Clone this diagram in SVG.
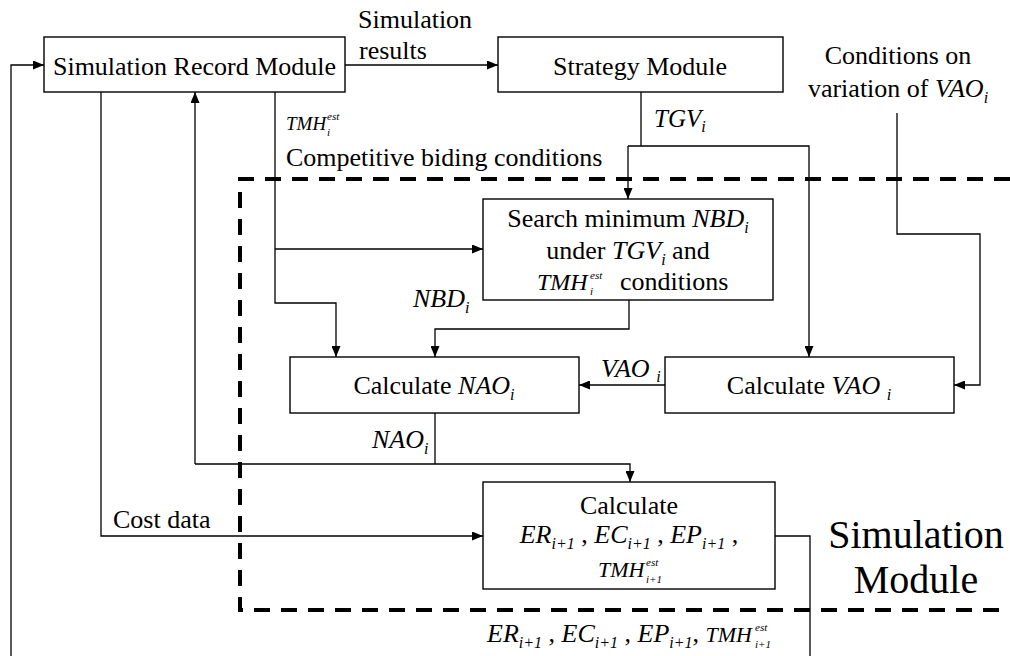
<svg xmlns="http://www.w3.org/2000/svg" width="1010" height="656" viewBox="0 0 1010 656">
  <defs>
    <marker id="head" markerUnits="userSpaceOnUse" markerWidth="11" markerHeight="9" refX="11" refY="4.5" orient="auto">
      <path d="M0,0 L11,4.5 L0,9 z" fill="#000"/>
    </marker>
  </defs>

  <!-- dashed boundary of the simulation module -->
  <path d="M1010,179 H240 V610 H1010" fill="none" stroke="#000" stroke-width="4" stroke-dasharray="16 11"/>

  <!-- connectors -->
  <g id="connectors" fill="none" stroke="#000" stroke-width="1.3">
    <path marker-end="url(#head)" d="M11,656 V65 H44"/>
    <path marker-end="url(#head)" d="M345,65 H498"/>
    <path marker-end="url(#head)" d="M101,92 V536 H483"/>
    <path marker-end="url(#head)" d="M195,464 V92"/>
    <path d="M435,413 V464"/>
    <path marker-end="url(#head)" d="M195,464 H630 V482"/>
    <path marker-end="url(#head)" d="M275,92 V303 H336 V357"/>
    <path marker-end="url(#head)" d="M275,249 H483"/>
    <path d="M641,92 V146"/>
    <path marker-end="url(#head)" d="M628,146 H809 V357"/>
    <path marker-end="url(#head)" d="M628,146 V199"/>
    <path marker-end="url(#head)" d="M629,300 V329 H435 V357"/>
    <path marker-end="url(#head)" d="M665,385 H579"/>
    <path marker-end="url(#head)" d="M897,113 V234 H980 V385 H954"/>
    <path d="M775,536 H810 V656"/>
  </g>

  <!-- connector labels -->
  <g id="labels" fill="#000">
    <text font-family="Liberation Serif" font-size="26" x="358" y="28">Simulation</text>
    <text font-family="Liberation Serif" font-size="26" x="359" y="59">results</text>
    <text font-family="Liberation Serif" font-size="19" font-style="italic" x="286" y="130">TMH</text>
    <text font-family="Liberation Serif" font-size="11" font-style="italic" x="327" y="120">est</text>
    <text font-family="Liberation Serif" font-size="11" font-style="italic" x="327" y="136">i</text>
    <text font-family="Liberation Serif" font-size="26" x="286" y="166">Competitive biding conditions</text>
    <text font-family="Liberation Serif" font-size="25" font-style="italic" x="654" y="127">TGV<tspan font-size="16" dy="5">i</tspan></text>
    <text font-family="Liberation Serif" font-size="26" x="898" y="64" text-anchor="middle">Conditions on</text>
    <text font-family="Liberation Serif" font-size="26" x="898" y="97" text-anchor="middle">variation of <tspan font-style="italic">VAO</tspan><tspan font-size="16" font-style="italic" dy="6">i</tspan></text>
    <text font-family="Liberation Serif" font-size="26" font-style="italic" x="413" y="307">NBD<tspan font-size="16" dy="6">i</tspan></text>
    <text font-family="Liberation Serif" font-size="26" font-style="italic" x="601" y="377">VAO <tspan font-size="16" dy="5">i</tspan></text>
    <text font-family="Liberation Serif" font-size="26" font-style="italic" x="372" y="448">NAO<tspan font-size="16" dy="6">i</tspan></text>
    <text font-family="Liberation Serif" font-size="26" x="113" y="528">Cost data</text>
    <text font-family="Liberation Serif" font-size="26" x="487" y="642"><tspan font-style="italic">ER</tspan><tspan font-size="16" font-style="italic" dy="6">i+1</tspan><tspan dy="-6"> , </tspan><tspan font-style="italic">EC</tspan><tspan font-size="16" font-style="italic" dy="6">i+1</tspan><tspan dy="-6"> , </tspan><tspan font-style="italic">EP</tspan><tspan font-size="16" font-style="italic" dy="6">i+1</tspan><tspan dy="-6">, </tspan><tspan font-style="italic" font-size="22">TMH</tspan></text>
    <text font-family="Liberation Serif" font-size="11" font-style="italic" x="755" y="631">est</text>
    <text font-family="Liberation Serif" font-size="11" font-style="italic" x="755" y="648">i+1</text>
    <text font-family="Liberation Serif" font-size="40" x="916" y="548" text-anchor="middle">Simulation</text>
    <text font-family="Liberation Serif" font-size="40" x="916" y="593" text-anchor="middle">Module</text>
  </g>

  <!-- nodes -->
  <g id="record">
    <rect x="44" y="37" width="301" height="55" fill="#fff" stroke="#000" stroke-width="1.4"/>
    <text font-family="Liberation Serif" font-size="26" x="194.5" y="75" text-anchor="middle">Simulation Record Module</text>
  </g>
  <g id="strategy">
    <rect x="498" y="37" width="285" height="55" fill="#fff" stroke="#000" stroke-width="1.4"/>
    <text font-family="Liberation Serif" font-size="26" x="640" y="75" text-anchor="middle">Strategy Module</text>
  </g>
  <g id="search">
    <rect x="483" y="199" width="290" height="101" fill="#fff" stroke="#000" stroke-width="1.4"/>
    <text font-family="Liberation Serif" font-size="26" x="628" y="227" text-anchor="middle">Search minimum <tspan font-style="italic">NBD</tspan><tspan font-size="16" font-style="italic" dy="6">i</tspan></text>
    <text font-family="Liberation Serif" font-size="26" x="628" y="259" text-anchor="middle">under <tspan font-style="italic">TGV</tspan><tspan font-size="16" font-style="italic" dy="6">i</tspan><tspan dy="-6"> and</tspan></text>
    <text font-family="Liberation Serif" font-size="24" font-style="italic" x="537" y="290">TMH</text>
    <text font-family="Liberation Serif" font-size="11" font-style="italic" x="590" y="279">est</text>
    <text font-family="Liberation Serif" font-size="11" font-style="italic" x="590" y="295">i</text>
    <text font-family="Liberation Serif" font-size="26" x="620" y="290">conditions</text>
  </g>
  <g id="calc-nao">
    <rect x="290" y="357" width="289" height="56" fill="#fff" stroke="#000" stroke-width="1.4"/>
    <text font-family="Liberation Serif" font-size="26" x="434" y="394" text-anchor="middle">Calculate <tspan font-style="italic">NAO</tspan><tspan font-size="16" font-style="italic" dy="6">i</tspan></text>
  </g>
  <g id="calc-vao">
    <rect x="665" y="357" width="289" height="56" fill="#fff" stroke="#000" stroke-width="1.4"/>
    <text font-family="Liberation Serif" font-size="26" x="809" y="394" text-anchor="middle">Calculate <tspan font-style="italic">VAO </tspan><tspan font-size="16" font-style="italic" dy="6">i</tspan></text>
  </g>
  <g id="calc-er">
    <rect x="483" y="482" width="292" height="107" fill="#fff" stroke="#000" stroke-width="1.4"/>
    <text font-family="Liberation Serif" font-size="26" x="629" y="514" text-anchor="middle">Calculate</text>
    <text font-family="Liberation Serif" font-size="26" x="629" y="543" text-anchor="middle"><tspan font-style="italic">ER</tspan><tspan font-size="16" font-style="italic" dy="6">i+1</tspan><tspan dy="-6"> , </tspan><tspan font-style="italic">EC</tspan><tspan font-size="16" font-style="italic" dy="6">i+1</tspan><tspan dy="-6"> , </tspan><tspan font-style="italic">EP</tspan><tspan font-size="16" font-style="italic" dy="6">i+1</tspan><tspan dy="-6"> ,</tspan></text>
    <text font-family="Liberation Serif" font-size="22" font-style="italic" x="598" y="577">TMH</text>
    <text font-family="Liberation Serif" font-size="11" font-style="italic" x="646" y="566">est</text>
    <text font-family="Liberation Serif" font-size="11" font-style="italic" x="646" y="583">i+1</text>
  </g>
</svg>
